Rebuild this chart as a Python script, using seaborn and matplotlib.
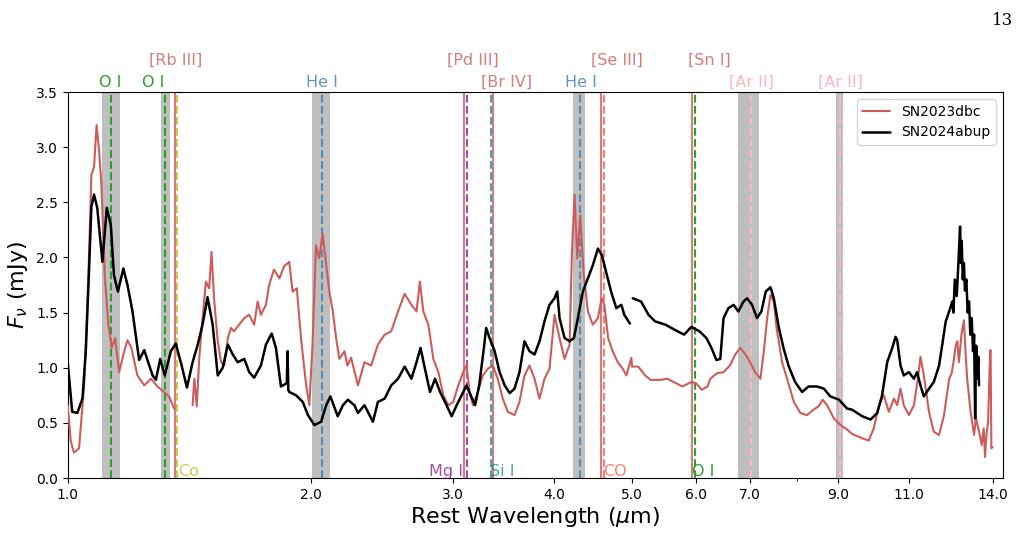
"""Nebular spectra comparison: SN2023dbc vs SN2024abup with line IDs."""
import numpy as np
import pandas as pd
import matplotlib
matplotlib.use("Agg")
import matplotlib.pyplot as plt
from matplotlib.ticker import NullFormatter
import seaborn as sns

NAN = np.nan

# SN2023dbc
WL_DBC = [1.000, 1.009, 1.018, 1.033, 1.048, 1.060, 1.070, 1.078, 1.086, 1.094, 1.101, 1.112,
          1.123, 1.134, 1.145, 1.158, 1.175, 1.186, 1.199, 1.220, 1.244, 1.268, 1.292, 1.316,
          1.335, 1.355, 1.390, 1.428, 1.435, 1.445, 1.455, 1.469, 1.483, 1.497, 1.507, 1.518,
          1.534, 1.549, 1.563, 1.579, 1.593, 1.607, 1.630, 1.655, 1.678, 1.702, 1.719, 1.735,
          1.760, 1.776, 1.801, 1.829, 1.854, 1.881, 1.899, 1.922, 1.945, 1.974, 1.992, 2.010,
          2.030, 2.049, 2.069, 2.090, 2.109, 2.130, 2.150, 2.170, 2.202, 2.220, 2.244, 2.288,
          2.331, 2.376, 2.422, 2.469, 2.516, 2.565, 2.614, 2.665, 2.704, 2.730, 2.757, 2.797,
          2.837, 2.878, 2.919, 2.961, 3.003, 3.046, 3.089, 3.118, 3.147, 3.176, 3.221, 3.267,
          3.314, 3.361, 3.409, 3.458, 3.508, 3.576, 3.627, 3.679, 3.732, 3.786, 3.840, 3.895,
          3.951, 4.008, 4.066, 4.124, 4.184, 4.212, 4.244, 4.276, 4.313, 4.354, 4.408, 4.471,
          4.536, 4.585, 4.620, 4.670, 4.730, 4.800, 4.870, 4.920, 4.990, 5.000, 5.090, 5.190,
          5.270, 5.420, 5.530, 5.630, 5.770, 5.920, 6.000, 6.100, 6.200, 6.250, 6.370, 6.490,
          6.610, 6.710, 6.810, 6.910, 7.000, 7.100, 7.210, 7.280, 7.350, 7.420, 7.490, 7.550,
          7.670, 7.780, 7.930, 8.080, 8.230, 8.390, 8.510, 8.610, 8.720, 8.890, 9.060, 9.230,
          9.360, 9.640, 9.820, 9.960, 10.11, 10.25, 10.40, 10.55, 10.65, 10.75, 10.85, 11.01,
          11.17, 11.31, 11.38, 11.49, 11.66, 11.82, 12.00, 12.17, 12.35, 12.44, 12.52, 12.58,
          12.64, 12.70, 12.79, 12.88, 12.94, 13.00, 13.13, 13.26, 13.33, 13.39, 13.47, 13.55,
          13.63, 13.68, 13.74, 13.80, 13.88, 13.90, 13.93, 13.98]
FX_DBC = [0.66, 0.33, 0.23, 0.27, 0.84, 1.75, 2.75, 2.82, 3.20, 2.96, 2.66, 1.81,
          1.39, 1.18, 1.27, 0.96, 1.15, 1.25, 1.18, 0.93, 0.84, 0.90, 0.83, 0.78,
          0.74, 0.63, NAN, 0.66, 0.90, 0.65, 1.08, 1.45, 1.78, 1.72, 2.05, 1.63,
          1.24, 1.05, 1.02, 1.27, 1.36, 1.33, 1.39, 1.45, 1.48, 1.39, 1.60, 1.48,
          1.57, 1.75, 1.89, 1.81, 1.92, 1.96, 1.69, 1.72, 1.27, 0.84, 0.66, 1.21,
          2.11, 1.99, 2.22, 1.93, 1.69, 1.51, 1.27, 1.08, 1.15, 1.02, 1.09, 0.84,
          1.05, 1.02, 1.21, 1.30, 1.33, 1.51, 1.67, 1.57, 1.51, 1.78, 1.51, 1.39,
          1.08, 0.96, 0.75, 0.66, 0.69, 0.84, 0.96, 1.02, 0.78, 0.66, 0.78, 0.93,
          0.99, 1.02, 0.90, 0.72, 0.60, 0.57, 0.69, 0.93, 1.02, 0.90, 0.72, 0.90,
          0.99, 1.48, 1.27, 1.08, 1.21, 2.05, 2.57, 1.99, 2.38, 1.87, 1.51, 1.39,
          1.45, 1.63, 1.57, 1.27, 1.15, 1.05, 0.99, 0.93, 1.09, 1.01, 1.01, 0.93,
          0.89, 0.89, 0.90, 0.87, 0.83, 0.87, 0.86, 0.80, 0.83, 0.90, 0.95, 0.96,
          1.02, 1.12, 1.18, 1.12, 1.05, 0.96, 0.90, 1.15, 1.45, 1.66, 1.60, 1.36,
          1.05, 0.90, 0.69, 0.59, 0.57, 0.62, 0.65, 0.71, 0.66, 0.54, 0.48, 0.44,
          0.40, 0.36, 0.34, 0.45, 0.66, 0.75, 0.60, 0.72, 0.66, 0.81, 0.66, 0.57,
          0.66, 0.93, 1.10, 0.93, 0.60, 0.42, 0.39, 0.57, 0.90, 0.95, 1.08, 1.20,
          1.24, 1.05, 1.30, 1.43, 1.15, 0.90, 0.60, 0.39, 0.55, 0.48, 0.40, 0.30,
          0.45, 0.19, 0.40, 0.51, 1.15, 1.16, 0.27, 0.28]

# SN2024abup
WL_ABUP = [1.000, 1.013, 1.028, 1.043, 1.053, 1.063, 1.070, 1.078, 1.088, 1.104, 1.118, 1.131,
           1.141, 1.154, 1.172, 1.186, 1.203, 1.226, 1.244, 1.258, 1.274, 1.286, 1.302, 1.319,
           1.342, 1.361, 1.384, 1.405, 1.428, 1.449, 1.469, 1.490, 1.512, 1.534, 1.556, 1.579,
           1.601, 1.624, 1.655, 1.678, 1.702, 1.735, 1.760, 1.789, 1.811, 1.837, 1.868, 1.872,
           1.876, 1.881, 1.918, 1.955, 1.984, 2.021, 2.060, 2.090, 2.115, 2.160, 2.192, 2.223,
           2.265, 2.288, 2.331, 2.388, 2.422, 2.469, 2.516, 2.565, 2.614, 2.665, 2.704, 2.735,
           2.770, 2.810, 2.851, 2.892, 2.946, 2.989, 3.032, 3.075, 3.118, 3.156, 3.196, 3.233,
           3.277, 3.298, 3.330, 3.379, 3.427, 3.477, 3.527, 3.576, 3.627, 3.679, 3.732, 3.786,
           3.840, 3.895, 3.951, 4.008, 4.039, 4.066, 4.124, 4.184, 4.236, 4.284, 4.345, 4.408,
           4.471, 4.536, 4.588, 4.642, 4.710, 4.780, 4.850, 4.890, 4.970, 4.990, 5.010, 5.130,
           5.240, 5.340, 5.500, 5.660, 5.800, 5.920, 6.060, 6.180, 6.270, 6.360, 6.430, 6.490,
           6.580, 6.680, 6.770, 6.870, 6.940, 7.040, 7.140, 7.230, 7.320, 7.420, 7.490, 7.600,
           7.700, 7.810, 7.960, 8.120, 8.270, 8.470, 8.640, 8.800, 9.020, 9.230, 9.360, 9.640,
           9.870, 10.06, 10.20, 10.35, 10.50, 10.60, 10.65, 10.75, 10.85, 11.01, 11.17, 11.27,
           11.38, 11.49, 11.66, 11.82, 12.00, 12.11, 12.23, 12.35, 12.46, 12.50, 12.55, 12.62,
           12.70, 12.74, 12.77, 12.80, 12.84, 12.88, 12.92, 12.97, 13.02, 13.07, 13.12, 13.17,
           13.22, 13.26, 13.30, 13.34, 13.38, 13.42, 13.45]
FX_ABUP = [1.05, 0.60, 0.59, 0.72, 1.15, 1.90, 2.46, 2.57, 2.45, 1.96, 2.45, 2.29,
           1.84, 1.69, 1.90, 1.75, 1.51, 1.07, 1.16, 1.05, 0.93, 0.89, 1.08, 0.93,
           1.15, 1.22, 1.02, 0.82, 1.05, 1.21, 1.39, 1.64, 1.39, 0.93, 1.00, 1.21,
           1.12, 1.05, 1.08, 0.96, 0.91, 1.02, 1.21, 1.31, 1.18, 0.83, 0.86, 1.15,
           0.80, 0.78, 0.75, 0.69, 0.57, 0.48, 0.51, 0.66, 0.74, 0.56, 0.66, 0.71,
           0.66, 0.59, 0.66, 0.51, 0.69, 0.72, 0.84, 0.90, 1.01, 0.90, 1.05, 1.18,
           0.99, 0.78, 0.90, 0.78, 0.66, 0.56, 0.66, 0.75, 0.84, 0.75, 0.66, 0.84,
           1.18, 1.36, 1.27, 1.15, 0.96, 0.84, 0.77, 0.81, 0.96, 1.24, 1.15, 1.12,
           1.24, 1.42, 1.57, 1.63, 1.69, 1.45, 1.27, 1.24, 1.27, 1.45, 1.69, 1.81,
           1.93, 2.08, 2.02, 1.87, 1.69, 1.54, 1.57, 1.48, 1.40, NAN, 1.63, 1.60,
           1.48, 1.42, 1.39, 1.34, 1.30, 1.37, 1.33, 1.27, 1.18, 1.07, 1.08, 1.45,
           1.54, 1.57, 1.51, 1.60, 1.63, 1.57, 1.45, 1.51, 1.69, 1.73, 1.63, 1.36,
           1.18, 1.02, 0.87, 0.78, 0.83, 0.83, 0.81, 0.74, 0.71, 0.63, 0.62, 0.56,
           0.53, 0.59, 0.75, 1.05, 1.18, 1.28, 1.25, 1.02, 0.93, 0.96, 0.90, 0.96,
           0.84, 0.74, 0.81, 0.87, 1.02, 1.21, 1.42, 1.51, 1.60, 1.50, 1.80, 1.65,
           2.05, 2.28, 1.95, 2.15, 1.80, 1.95, 1.70, 1.80, 1.50, 1.60, 1.30, 1.45,
           1.15, 1.30, 0.54, 1.20, 0.90, 1.10, 0.84]

# line identifications
LINE_NAMES = ["O I", "O I", "[Rb III]", "Co", "He I", "[Pd III]", "Mg I", "[Br IV]",
              "Si I", "He I", "[Se III]", "CO", "[Sn I]", "O I", "[Ar II]", "[Ar II]"]
LINE_WAVES = [1.130, 1.318, 1.359, 1.364, 2.066, 3.10, 3.125, 3.36,
              3.34, 4.31, 4.57, 4.61, 5.93, 5.98, 7.02, 9.04]
# where each label sits: row and x position
LABEL_ROW = ["lo", "lo", "hi", "bot", "lo", "hi", "bot", "lo",
             "bot", "lo", "hi", "bot", "hi", "bot", "lo", "lo"]
LABEL_X = [1.130, 1.275, 1.359, 1.369, 2.066, 3.18, 3.09, 3.50,
           3.33, 4.32, 4.79, 4.61, 6.23, 5.93, 7.02, 9.06]
LABEL_HA = ["center", "center", "center", "left", "center", "center", "right", "center",
            "left", "center", "center", "left", "center", "left", "center", "center"]

BAND_LO = [1.104, 1.304, 2.007, 4.23, 6.76, 8.95]
BAND_HI = [1.160, 1.337, 2.114, 4.37, 7.18, 9.13]

XTICKS = [1.0, 2.0, 3.0, 4.0, 5.0, 6.0, 7.0, 9.0, 11.0, 14.0]
YTICKS = [0.0, 0.5, 1.0, 1.5, 2.0, 2.5, 3.0, 3.5]

RED = "#cd5c5c"
STYLE = {  # species -> (colour, alpha, linestyle)
    "O I": ("tab:green", 1.0, "--"),
    "He I": ("steelblue", 0.85, "--"),
    "Co": ("tab:olive", 0.8, "--"),
    "Mg I": ("purple", 0.7, "--"),
    "Si I": ("teal", 0.7, "--"),
    "CO": ("salmon", 1.0, "--"),
    "[Ar II]": ("lightpink", 1.0, "--"),
}
FORBIDDEN_RED = ("indianred", 0.8, "-")


def long_frame(name, wl, fx):
    rows, seg = [], 0
    for w, f in zip(wl, fx):
        if np.isnan(f):
            seg += 1
            continue
        rows.append((name, f"{name}-{seg}", w, f))
    return pd.DataFrame(rows, columns=["object", "seg", "wave", "flux"])


sns.set_style("ticks", {"axes.edgecolor": "black", "text.color": "black",
                        "axes.labelcolor": "black", "xtick.color": "black",
                        "ytick.color": "black"})
plt.rcParams["font.family"] = ["DejaVu Sans"]
plt.rcParams["mathtext.fontset"] = "dejavusans"

df = pd.concat([long_frame("SN2023dbc", WL_DBC, FX_DBC),
                long_frame("SN2024abup", WL_ABUP, FX_ABUP)], ignore_index=True)

fig = plt.figure(figsize=(10.24, 5.6), dpi=100)
ax = fig.add_axes([0.0661, 0.1464, 0.9134, 0.6893])

for lo, hi in zip(BAND_LO, BAND_HI):
    ax.axvspan(lo, hi, color="grey", alpha=0.5, lw=0, zorder=1)

xt = ax.get_xaxis_transform()
for name, w, row, lx, ha in zip(LINE_NAMES, LINE_WAVES, LABEL_ROW, LABEL_X, LABEL_HA):
    color, alpha, ls = STYLE.get(name, FORBIDDEN_RED)
    ax.axvline(w, color=color, alpha=alpha, ls=ls, lw=1.5, zorder=1.5)
    y = {"lo": 1.013, "hi": 1.071, "bot": 0.006}[row]
    ax.text(lx, y, name, transform=xt, ha=ha, va="baseline", fontsize=11.5,
            color=color, alpha=alpha, clip_on=False)

sns.lineplot(data=df, x="wave", y="flux", hue="object", size="object",
             palette={"SN2023dbc": RED, "SN2024abup": "black"},
             sizes={"SN2023dbc": 1.5, "SN2024abup": 1.8},
             units="seg", estimator=None, sort=False, ax=ax, zorder=3)

ax.set_xscale("log")
ax.set_xlim(1.0, 14.4)
ax.set_ylim(0.0, 3.5)
ax.set_xticks(XTICKS)
ax.set_xticklabels([f"{t:.1f}" for t in XTICKS])
ax.xaxis.set_minor_formatter(NullFormatter())
ax.set_yticks(YTICKS)
ax.set_yticklabels([f"{t:.1f}" for t in YTICKS])
ax.tick_params(labelsize=10)
ax.set_xlabel(r"Rest Wavelength ($\mu$m)", fontsize=16, labelpad=2)
ax.set_ylabel(r"$F_\nu$ (mJy)", fontsize=16)

sns.move_legend(ax, "upper right", title=None, frameon=True, fontsize=10)

fig.text(0.979, 0.978, "13", ha="center", va="top", fontsize=12, family="DejaVu Serif")

fig.savefig("out.png", dpi=100, facecolor="white")
